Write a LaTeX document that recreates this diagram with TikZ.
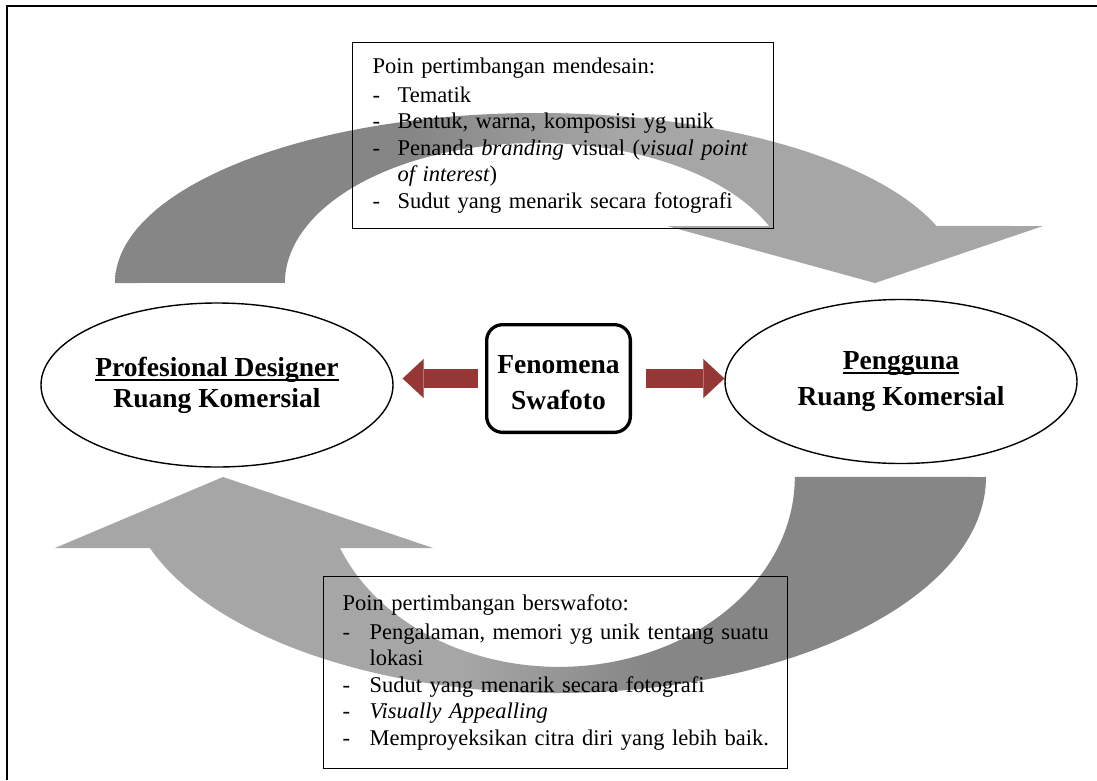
\documentclass[tikz,border=0pt]{standalone}
\usepackage{fontspec}
\setmainfont{Liberation Serif}
\usetikzlibrary{shapes.geometric,arrows.meta}
\definecolor{gdark}{HTML}{868686}
\definecolor{glight}{HTML}{A6A6A6}
\definecolor{rarrow}{HTML}{953735}
\pgfdeclarehorizontalshading{topsh}{100bp}{color(0bp)=(gdark); color(41bp)=(gdark); color(52bp)=(glight); color(100bp)=(glight)}
\pgfdeclarehorizontalshading{botsh}{100bp}{color(0bp)=(glight); color(47bp)=(glight); color(57bp)=(gdark); color(100bp)=(gdark)}
\newsavebox\ulbox
\newcommand\myul[1]{\sbox\ulbox{#1}\rlap{\rule[-4.5pt]{\wd\ulbox}{2pt}}\usebox\ulbox}
\newcommand\itm[2]{\mbox{\makebox[#1][l]{-}#2}}
\begin{document}
\begin{tikzpicture}[x=1pt,y=1pt,
  txtbox/.style={draw, line width=1.2pt, inner xsep=20pt, inner ysep=6pt, align=left, anchor=north west,
    font=\fontsize{22.5}{26.5}\selectfont},
  ell/.style={ellipse, draw, line width=1.4pt, fill=white, minimum width=352pt, minimum height=164pt,
    inner sep=0pt, align=center, font=\bfseries\fontsize{27.5}{31}\selectfont},
  fenbox/.style={draw, line width=3.3pt, rounded corners=16pt, minimum width=143.7pt, minimum height=107.7pt,
    inner sep=0pt, align=center, font=\bfseries\fontsize{27.5}{31}\selectfont},
  redarr/.style={draw=rarrow, line width=19pt, -{Triangle[width=39pt,length=21pt,line width=0.01pt]}},
  frame/.style={line width=1.6pt}
]
\useasboundingbox (0,0) rectangle (1097,-780);
% outer frame (top and left edges)
\coordinate (fbl) at (7,-780);
\coordinate (ftl) at (7,-6);
\coordinate (ftr) at (1097,-6);
\draw[frame] (fbl) -- (ftl) -- (ftr);

% top curved arrow
\path[shading=topsh] (115,-283) arc[start angle=180,end angle=19.6,x radius=423pt,y radius=170pt]
  -- (1043,-226) -- (875,-283) -- (667,-226) -- (769,-226)
  arc[start angle=24,end angle=180,x radius=253pt,y radius=140pt] -- cycle;

% bottom curved arrow
\path[shading=botsh] (986,-477) arc[start angle=0,end angle=-160.8,x radius=430pt,y radius=216pt]
  -- (55,-548) -- (223,-477) -- (433,-548) -- (340,-548)
  arc[start angle=-158,end angle=0,x radius=236pt,y radius=190pt] -- cycle;

% text boxes
\node[txtbox, text width=381pt, minimum height=186pt] (tbox) at (352,-42) {%
\mbox{Poin pertimbangan mendesain:}\\[2pt]
\itm{25pt}{Tematik}\\
\itm{25pt}{Bentuk, warna, komposisi yg unik}\\
\itm{25pt}{Penanda \textit{branding} visual (\textit{visual point}}\\
\mbox{\hspace*{25pt}\textit{of interest})}\\
\itm{25pt}{Sudut yang menarik secara fotografi}};

\node[txtbox, inner xsep=19pt, text width=426pt, minimum height=192pt] (bbox) at (323,-576) {%
\mbox{Poin pertimbangan berswafoto:}\\[2pt]
\itm{27pt}{Pengalaman, memori yg unik tentang suatu}\\
\mbox{\hspace*{27pt}lokasi}\\
\itm{27pt}{Sudut yang menarik secara fotografi}\\
\itm{27pt}{\textit{Visually Appealling}}\\
\itm{27pt}{Memproyeksikan citra diri yang lebih baik.}};

% ellipses
\node[ell] (left) at (217,-385) {\myul{Profesional Designer}\\Ruang Komersial};
\node[ell] (right) at (901,-381.5) {\rule{0pt}{13pt}\myul{Pengguna}\\[5pt]Ruang Komersial};

% central box
\node[fenbox] (fen) at (558.5,-378.5) {\rule{0pt}{27pt}Fenomena\\[5pt]Swafoto};

% red arrows
\draw[redarr] ([xshift=-7pt]fen.west) -- ([xshift=9pt]fen.west -| left.east);
\draw[redarr] ([xshift=14pt]fen.east) -- (fen.east -| right.west);
\end{tikzpicture}
\end{document}
